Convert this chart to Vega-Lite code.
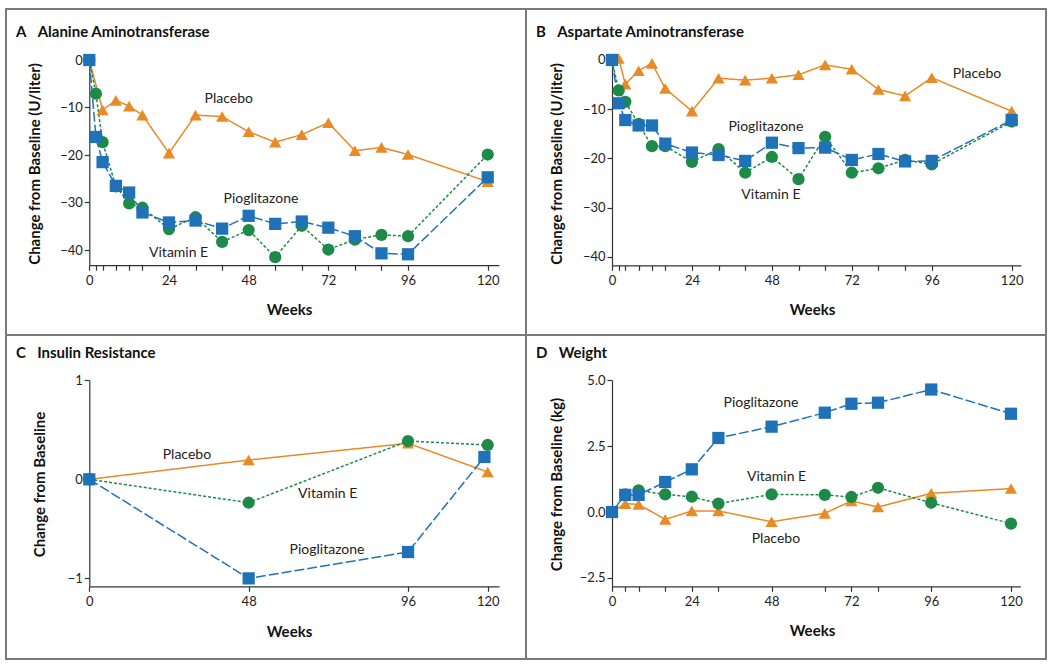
{
  "$schema": "https://vega.github.io/schema/vega-lite/v6.json",
  "padding": {"left": 5, "top": 8, "right": 0, "bottom": 0},
  "background": "white",
  "bounds": "flush",
  "spacing": 0,
  "columns": 2,
  "config": {
    "view": {"stroke": "#7a7a7a", "strokeWidth": 2},
    "font": "Lato",
    "axis": {"grid": false, "domainColor": "#333", "tickColor": "#333", "domainWidth": 1.2, "tickWidth": 1.2, "tickSize": 5, "labelFont": "Lato", "labelFontSize": 13, "labelColor": "#222", "titleFont": "Lato", "titleFontSize": 15, "titleFontWeight": "bold", "titleColor": "#111", "labelFlush": false, "labelOverlap": false},
    "title": {"font": "Lato", "fontSize": 15, "fontWeight": "bold", "color": "#111", "anchor": "start", "frame": "group", "baseline": "alphabetic"},
    "line": {"strokeWidth": 1.5},
    "point": {"filled": true, "opacity": 1, "size": 150},
    "text": {"font": "Lato", "fontSize": 14, "color": "#222"}
  },
  "datasets": {
    "ALT": [
      {"week": 0, "value": 0, "series": "Placebo"}, {"week": 4, "value": -10.5, "series": "Placebo"}, {"week": 8, "value": -8.5, "series": "Placebo"}, {"week": 12, "value": -9.7, "series": "Placebo"}, {"week": 16, "value": -11.6, "series": "Placebo"}, {"week": 24, "value": -19.6, "series": "Placebo"}, {"week": 32, "value": -11.6, "series": "Placebo"}, {"week": 40, "value": -11.9, "series": "Placebo"}, {"week": 48, "value": -15.1, "series": "Placebo"}, {"week": 56, "value": -17.3, "series": "Placebo"}, {"week": 64, "value": -15.7, "series": "Placebo"}, {"week": 72, "value": -13.2, "series": "Placebo"}, {"week": 80, "value": -19.1, "series": "Placebo"}, {"week": 88, "value": -18.4, "series": "Placebo"}, {"week": 96, "value": -19.9, "series": "Placebo"}, {"week": 120, "value": -25.6, "series": "Placebo"},
      {"week": 0, "value": 0, "series": "Vitamin E"}, {"week": 2, "value": -7.1, "series": "Vitamin E"}, {"week": 4, "value": -17.3, "series": "Vitamin E"}, {"week": 8, "value": -26.6, "series": "Vitamin E"}, {"week": 12, "value": -30.2, "series": "Vitamin E"}, {"week": 16, "value": -31.1, "series": "Vitamin E"}, {"week": 24, "value": -35.6, "series": "Vitamin E"}, {"week": 32, "value": -33.1, "series": "Vitamin E"}, {"week": 40, "value": -38.3, "series": "Vitamin E"}, {"week": 48, "value": -35.8, "series": "Vitamin E"}, {"week": 56, "value": -41.5, "series": "Vitamin E"}, {"week": 64, "value": -34.9, "series": "Vitamin E"}, {"week": 72, "value": -39.9, "series": "Vitamin E"}, {"week": 80, "value": -37.8, "series": "Vitamin E"}, {"week": 88, "value": -36.8, "series": "Vitamin E"}, {"week": 96, "value": -37.1, "series": "Vitamin E"}, {"week": 120, "value": -19.9, "series": "Vitamin E"},
      {"week": 0, "value": 0, "series": "Pioglitazone"}, {"week": 2, "value": -16.2, "series": "Pioglitazone"}, {"week": 4, "value": -21.5, "series": "Pioglitazone"}, {"week": 8, "value": -26.5, "series": "Pioglitazone"}, {"week": 12, "value": -27.9, "series": "Pioglitazone"}, {"week": 16, "value": -32.1, "series": "Pioglitazone"}, {"week": 24, "value": -34.2, "series": "Pioglitazone"}, {"week": 32, "value": -33.8, "series": "Pioglitazone"}, {"week": 40, "value": -35.5, "series": "Pioglitazone"}, {"week": 48, "value": -32.8, "series": "Pioglitazone"}, {"week": 56, "value": -34.5, "series": "Pioglitazone"}, {"week": 64, "value": -34.0, "series": "Pioglitazone"}, {"week": 72, "value": -35.3, "series": "Pioglitazone"}, {"week": 80, "value": -37.1, "series": "Pioglitazone"}, {"week": 88, "value": -40.7, "series": "Pioglitazone"}, {"week": 96, "value": -40.9, "series": "Pioglitazone"}, {"week": 120, "value": -24.7, "series": "Pioglitazone"}
    ],
    "ALT_labels": [
      {"week": 42, "value": -8.3, "label": "Placebo"},
      {"week": 51.7, "value": -29.2, "label": "Pioglitazone"},
      {"week": 26.9, "value": -40.6, "label": "Vitamin E"}
    ],
    "AST": [
      {"week": 0, "value": 0, "series": "Placebo"}, {"week": 2, "value": 0.3, "series": "Placebo"}, {"week": 4, "value": -4.9, "series": "Placebo"}, {"week": 8, "value": -2.2, "series": "Placebo"}, {"week": 12, "value": -0.7, "series": "Placebo"}, {"week": 16, "value": -5.8, "series": "Placebo"}, {"week": 24, "value": -10.4, "series": "Placebo"}, {"week": 32, "value": -3.7, "series": "Placebo"}, {"week": 40, "value": -4.1, "series": "Placebo"}, {"week": 48, "value": -3.7, "series": "Placebo"}, {"week": 56, "value": -3.0, "series": "Placebo"}, {"week": 64, "value": -1.0, "series": "Placebo"}, {"week": 72, "value": -1.9, "series": "Placebo"}, {"week": 80, "value": -6.0, "series": "Placebo"}, {"week": 88, "value": -7.3, "series": "Placebo"}, {"week": 96, "value": -3.6, "series": "Placebo"}, {"week": 120, "value": -10.4, "series": "Placebo"},
      {"week": 0, "value": 0, "series": "Vitamin E"}, {"week": 2, "value": -6.2, "series": "Vitamin E"}, {"week": 4, "value": -8.5, "series": "Vitamin E"}, {"week": 8, "value": -13.0, "series": "Vitamin E"}, {"week": 12, "value": -17.5, "series": "Vitamin E"}, {"week": 16, "value": -17.5, "series": "Vitamin E"}, {"week": 24, "value": -20.7, "series": "Vitamin E"}, {"week": 32, "value": -18.1, "series": "Vitamin E"}, {"week": 40, "value": -22.9, "series": "Vitamin E"}, {"week": 48, "value": -19.7, "series": "Vitamin E"}, {"week": 56, "value": -24.2, "series": "Vitamin E"}, {"week": 64, "value": -15.6, "series": "Vitamin E"}, {"week": 72, "value": -22.9, "series": "Vitamin E"}, {"week": 80, "value": -22.0, "series": "Vitamin E"}, {"week": 88, "value": -20.3, "series": "Vitamin E"}, {"week": 96, "value": -21.2, "series": "Vitamin E"}, {"week": 120, "value": -12.5, "series": "Vitamin E"},
      {"week": 0, "value": 0, "series": "Pioglitazone"}, {"week": 2, "value": -8.8, "series": "Pioglitazone"}, {"week": 4, "value": -12.2, "series": "Pioglitazone"}, {"week": 8, "value": -13.3, "series": "Pioglitazone"}, {"week": 12, "value": -13.3, "series": "Pioglitazone"}, {"week": 16, "value": -17.0, "series": "Pioglitazone"}, {"week": 24, "value": -18.8, "series": "Pioglitazone"}, {"week": 32, "value": -19.3, "series": "Pioglitazone"}, {"week": 40, "value": -20.5, "series": "Pioglitazone"}, {"week": 48, "value": -16.8, "series": "Pioglitazone"}, {"week": 56, "value": -17.9, "series": "Pioglitazone"}, {"week": 64, "value": -17.8, "series": "Pioglitazone"}, {"week": 72, "value": -20.3, "series": "Pioglitazone"}, {"week": 80, "value": -19.1, "series": "Pioglitazone"}, {"week": 88, "value": -20.6, "series": "Pioglitazone"}, {"week": 96, "value": -20.5, "series": "Pioglitazone"}, {"week": 120, "value": -12.2, "series": "Pioglitazone"}
    ],
    "AST_labels": [
      {"week": 109.6, "value": -2.9, "label": "Placebo"},
      {"week": 46.2, "value": -13.6, "label": "Pioglitazone"},
      {"week": 47.7, "value": -27.4, "label": "Vitamin E"}
    ],
    "IR": [
      {"week": 0, "value": 0, "series": "Placebo"}, {"week": 48, "value": 0.195, "series": "Placebo"}, {"week": 96, "value": 0.364, "series": "Placebo"}, {"week": 120, "value": 0.074, "series": "Placebo"},
      {"week": 0, "value": 0, "series": "Vitamin E"}, {"week": 48, "value": -0.236, "series": "Vitamin E"}, {"week": 96, "value": 0.387, "series": "Vitamin E"}, {"week": 120, "value": 0.347, "series": "Vitamin E"},
      {"week": 0, "value": 0, "series": "Pioglitazone"}, {"week": 48, "value": -1.0, "series": "Pioglitazone"}, {"week": 96, "value": -0.734, "series": "Pioglitazone"}, {"week": 119, "value": 0.226, "series": "Pioglitazone"}
    ],
    "IR_labels": [
      {"week": 29.4, "value": 0.242, "label": "Placebo"},
      {"week": 71.8, "value": -0.152, "label": "Vitamin E"},
      {"week": 71.6, "value": -0.714, "label": "Pioglitazone"}
    ],
    "WT": [
      {"week": 0, "value": 0, "series": "Placebo"}, {"week": 4, "value": 0.32, "series": "Placebo"}, {"week": 8, "value": 0.29, "series": "Placebo"}, {"week": 16, "value": -0.28, "series": "Placebo"}, {"week": 24, "value": 0.04, "series": "Placebo"}, {"week": 32, "value": 0.04, "series": "Placebo"}, {"week": 48, "value": -0.37, "series": "Placebo"}, {"week": 64, "value": -0.05, "series": "Placebo"}, {"week": 72, "value": 0.42, "series": "Placebo"}, {"week": 80, "value": 0.19, "series": "Placebo"}, {"week": 96, "value": 0.71, "series": "Placebo"}, {"week": 120, "value": 0.89, "series": "Placebo"},
      {"week": 0, "value": 0, "series": "Vitamin E"}, {"week": 4, "value": 0.67, "series": "Vitamin E"}, {"week": 8, "value": 0.82, "series": "Vitamin E"}, {"week": 16, "value": 0.67, "series": "Vitamin E"}, {"week": 24, "value": 0.58, "series": "Vitamin E"}, {"week": 32, "value": 0.32, "series": "Vitamin E"}, {"week": 48, "value": 0.67, "series": "Vitamin E"}, {"week": 64, "value": 0.65, "series": "Vitamin E"}, {"week": 72, "value": 0.57, "series": "Vitamin E"}, {"week": 80, "value": 0.92, "series": "Vitamin E"}, {"week": 96, "value": 0.35, "series": "Vitamin E"}, {"week": 120, "value": -0.44, "series": "Vitamin E"},
      {"week": 0, "value": 0, "series": "Pioglitazone"}, {"week": 4, "value": 0.65, "series": "Pioglitazone"}, {"week": 8, "value": 0.65, "series": "Pioglitazone"}, {"week": 16, "value": 1.14, "series": "Pioglitazone"}, {"week": 24, "value": 1.62, "series": "Pioglitazone"}, {"week": 32, "value": 2.81, "series": "Pioglitazone"}, {"week": 48, "value": 3.24, "series": "Pioglitazone"}, {"week": 64, "value": 3.77, "series": "Pioglitazone"}, {"week": 72, "value": 4.11, "series": "Pioglitazone"}, {"week": 80, "value": 4.15, "series": "Pioglitazone"}, {"week": 96, "value": 4.65, "series": "Pioglitazone"}, {"week": 120, "value": 3.73, "series": "Pioglitazone"}
    ],
    "WT_labels": [
      {"week": 44.8, "value": 4.13, "label": "Pioglitazone"},
      {"week": 49.5, "value": 1.33, "label": "Vitamin E"},
      {"week": 49.3, "value": -1.01, "label": "Placebo"}
    ]
  },
  "concat": [
    {
      "width": 520, "height": 326,
      "title": {"text": "A\u2003Alanine Aminotransferase", "offset": -31, "dx": 10},
      "encoding": {
        "x": {"field": "week", "type": "quantitative", "scale": {"domain": [0, 123.4], "range": [83.3, 493], "nice": false, "zero": false},
          "axis": {"values": [0, 2, 4, 8, 12, 16, 24, 32, 40, 48, 56, 64, 72, 80, 88, 96, 120], "labelExpr": "indexof([0,24,48,72,96,120], datum.value) >= 0 ? datum.label : ''", "title": "Weeks", "offset": -69.8, "titleX": 283, "titleY": 44, "titleBaseline": "middle", "labelPadding": 4}},
        "y": {"field": "value", "type": "quantitative", "scale": {"domain": [-43.2, 1.2], "range": [256.2, 45.3], "nice": false, "zero": false},
          "axis": {"values": [0, -10, -20, -30, -40], "format": "d", "title": "Change from Baseline (U/liter)", "offset": -83.3, "titleX": -55, "titleY": 154.5, "titleBaseline": "middle", "labelPadding": 2}}
      },
      "layer": [
        {"data": {"name": "ALT"}, "mark": {"type": "line"},
          "encoding": {
            "color": {"field": "series", "type": "nominal", "scale": {"domain": ["Placebo", "Vitamin E", "Pioglitazone"], "range": ["#E88A25", "#1E8A47", "#1F72B8"]}, "legend": null},
            "strokeDash": {"field": "series", "type": "nominal", "scale": {"domain": ["Placebo", "Vitamin E", "Pioglitazone"], "range": [[1, 0], [3, 2], [10, 3]]}, "legend": null}}},
        {"data": {"name": "ALT"}, "mark": {"type": "point"},
          "encoding": {
            "color": {"field": "series", "type": "nominal", "legend": null},
            "shape": {"field": "series", "type": "nominal", "scale": {"domain": ["Placebo", "Vitamin E", "Pioglitazone"], "range": ["triangle-up", "circle", "square"]}, "legend": null}}},
        {"data": {"name": "ALT_labels"}, "mark": {"type": "text"}, "encoding": {"text": {"field": "label"}}}
      ]
    },
    {
      "width": 520, "height": 326,
      "title": {"text": "B\u2003Aspartate Aminotransferase", "offset": -31, "dx": 10},
      "encoding": {
        "x": {"field": "week", "type": "quantitative", "scale": {"domain": [0, 122.8], "range": [86, 495], "nice": false, "zero": false},
          "axis": {"values": [0, 2, 4, 8, 12, 16, 24, 32, 40, 48, 56, 64, 72, 80, 88, 96, 120], "labelExpr": "indexof([0,24,48,72,96,120], datum.value) >= 0 ? datum.label : ''", "title": "Weeks", "offset": -69.7, "titleX": 286, "titleY": 44, "titleBaseline": "middle", "labelPadding": 4}},
        "y": {"field": "value", "type": "quantitative", "scale": {"domain": [-41.7, 1.15], "range": [256.3, 45.3], "nice": false, "zero": false},
          "axis": {"values": [0, -10, -20, -30, -40], "format": "d", "title": "Change from Baseline (U/liter)", "offset": -86, "titleX": -56, "titleY": 154.5, "titleBaseline": "middle", "labelPadding": 2}}
      },
      "layer": [
        {"data": {"name": "AST"}, "mark": {"type": "line"},
          "encoding": {
            "color": {"field": "series", "type": "nominal", "legend": null},
            "strokeDash": {"field": "series", "type": "nominal", "scale": {"domain": ["Placebo", "Vitamin E", "Pioglitazone"], "range": [[1, 0], [3, 2], [10, 3]]}, "legend": null}}},
        {"data": {"name": "AST"}, "mark": {"type": "point"},
          "encoding": {
            "color": {"field": "series", "type": "nominal", "legend": null},
            "shape": {"field": "series", "type": "nominal", "scale": {"domain": ["Placebo", "Vitamin E", "Pioglitazone"], "range": ["triangle-up", "circle", "square"]}, "legend": null}}},
        {"data": {"name": "AST_labels"}, "mark": {"type": "text"}, "encoding": {"text": {"field": "label"}}}
      ]
    },
    {
      "width": 520, "height": 324,
      "title": {"text": "C\u2003Insulin Resistance", "offset": -26, "dx": 10},
      "encoding": {
        "x": {"field": "week", "type": "quantitative", "scale": {"domain": [0, 123.4], "range": [83.3, 493], "nice": false, "zero": false},
          "axis": {"values": [0, 48, 96, 120], "title": "Weeks", "offset": -72.7, "titleX": 283, "titleY": 44.7, "titleBaseline": "middle", "labelPadding": 4}},
        "y": {"field": "value", "type": "quantitative", "scale": {"domain": [-1.08, 1], "range": [251.3, 45.3], "nice": false, "zero": false},
          "axis": {"values": [-1, 0, 1], "labelExpr": "datum.value == 0 ? '0' : (datum.value > 0 ? '1' : '\u22121')", "title": "Change from Baseline", "offset": -83.3, "titleX": -50, "titleY": 149, "titleBaseline": "middle", "labelPadding": 2}}
      },
      "layer": [
        {"data": {"name": "IR"}, "mark": {"type": "line"},
          "encoding": {
            "color": {"field": "series", "type": "nominal", "legend": null},
            "strokeDash": {"field": "series", "type": "nominal", "scale": {"domain": ["Placebo", "Vitamin E", "Pioglitazone"], "range": [[1, 0], [3, 2], [10, 3]]}, "legend": null}}},
        {"data": {"name": "IR"}, "mark": {"type": "point"},
          "encoding": {
            "color": {"field": "series", "type": "nominal", "legend": null},
            "shape": {"field": "series", "type": "nominal", "scale": {"domain": ["Placebo", "Vitamin E", "Pioglitazone"], "range": ["triangle-up", "circle", "square"]}, "legend": null}}},
        {"data": {"name": "IR_labels"}, "mark": {"type": "text"}, "encoding": {"text": {"field": "label"}}}
      ]
    },
    {
      "width": 520, "height": 324,
      "title": {"text": "D\u2003Weight", "offset": -26, "dx": 10},
      "encoding": {
        "x": {"field": "week", "type": "quantitative", "scale": {"domain": [0, 122.8], "range": [86, 494.3], "nice": false, "zero": false},
          "axis": {"values": [0, 4, 8, 16, 24, 32, 48, 64, 72, 80, 96, 120], "labelExpr": "indexof([0,24,48,72,96,120], datum.value) >= 0 ? datum.label : ''", "title": "Weeks", "offset": -72.7, "titleX": 286, "titleY": 44, "titleBaseline": "middle", "labelPadding": 4}},
        "y": {"field": "value", "type": "quantitative", "scale": {"domain": [-2.82, 5.0], "range": [251.3, 45.3], "nice": false, "zero": false},
          "axis": {"values": [5, 2.5, 0, -2.5], "format": ".1f", "title": "Change from Baseline (kg)", "offset": -86, "titleX": -56, "titleY": 149, "titleBaseline": "middle", "labelPadding": 2}}
      },
      "layer": [
        {"data": {"name": "WT"}, "mark": {"type": "line"},
          "encoding": {
            "color": {"field": "series", "type": "nominal", "legend": null},
            "strokeDash": {"field": "series", "type": "nominal", "scale": {"domain": ["Placebo", "Vitamin E", "Pioglitazone"], "range": [[1, 0], [3, 2], [10, 3]]}, "legend": null}}},
        {"data": {"name": "WT"}, "mark": {"type": "point"},
          "encoding": {
            "color": {"field": "series", "type": "nominal", "legend": null},
            "shape": {"field": "series", "type": "nominal", "scale": {"domain": ["Placebo", "Vitamin E", "Pioglitazone"], "range": ["triangle-up", "circle", "square"]}, "legend": null}}},
        {"data": {"name": "WT_labels"}, "mark": {"type": "text"}, "encoding": {"text": {"field": "label"}}}
      ]
    }
  ]
}
